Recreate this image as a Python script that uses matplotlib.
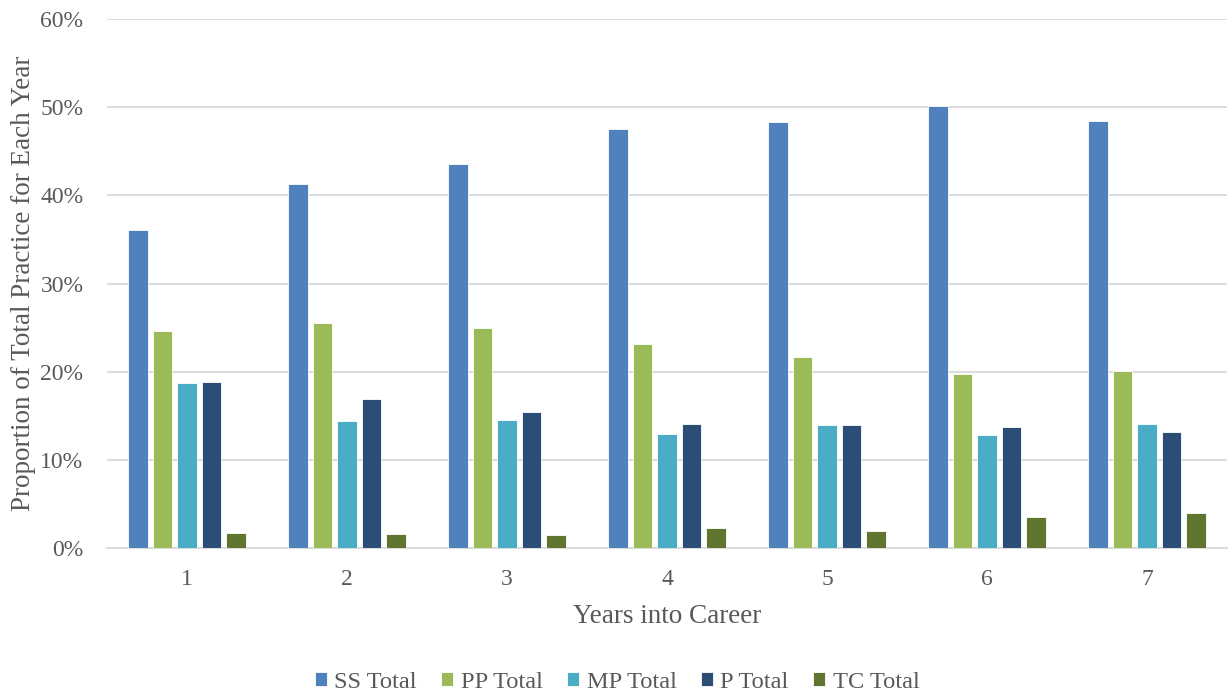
import matplotlib
matplotlib.use("Agg")
import matplotlib.pyplot as plt
import numpy as np
from matplotlib.ticker import PercentFormatter

years = ["1", "2", "3", "4", "5", "6", "7"]
series_names = ["SS Total", "PP Total", "MP Total", "P Total", "TC Total"]
ss_total = [36.1, 41.3, 43.6, 47.5, 48.3, 50.1, 48.4]
pp_total = [24.6, 25.5, 24.9, 23.1, 21.7, 19.7, 20.1]
mp_total = [18.7, 14.4, 14.5, 12.9, 13.9, 12.8, 14.1]
p_total = [18.8, 16.9, 15.4, 14.1, 14.0, 13.7, 13.2]
tc_total = [1.7, 1.6, 1.5, 2.3, 1.9, 3.5, 4.0]
colors = ["#4f81bd", "#9bbb59", "#4bacc6", "#2c4d75", "#5f7530"]

values = [ss_total, pp_total, mp_total, p_total, tc_total]

plt.rcParams["font.family"] = ["Liberation Serif", "DejaVu Serif"]
text_color = "#595959"

fig = plt.figure(figsize=(12.3, 6.94), dpi=100)
ax = fig.add_axes([107 / 1230, 1 - 548 / 694, 1120 / 1230, (548 - 19) / 694])

x = np.arange(len(years))
step = 0.153
width = 0.12
for i, (name, vals, c) in enumerate(zip(series_names, values, colors)):
    ax.bar(x + (i - 2) * step, vals, width=width, color=c, label=name,
           edgecolor="white", linewidth=0.6, zorder=3)

ax.set_xlim(-0.5, len(years) - 0.5)
ax.set_ylim(0, 60)
ax.set_yticks(np.arange(0, 61, 10))
ax.yaxis.set_major_formatter(PercentFormatter(decimals=0))
ax.set_xticks(x)
ax.set_xticklabels(years)
ax.grid(axis="y", color="#d9d9d9", linewidth=1.3, zorder=0)
for s in ["top", "right", "left"]:
    ax.spines[s].set_visible(False)
ax.spines["bottom"].set_color("#d9d9d9")
ax.spines["bottom"].set_linewidth(1.3)
ax.tick_params(axis="both", length=0, labelsize=17, colors=text_color)
ax.tick_params(axis="x", pad=15)
ax.tick_params(axis="y", pad=17)

ax.set_xlabel("Years into Career", fontsize=19.5, color=text_color, labelpad=10)
ax.set_ylabel("Proportion of Total Practice for Each Year", fontsize=19.5,
              color=text_color, labelpad=3)

leg = fig.legend(loc="center", bbox_to_anchor=(617 / 1230, 1 - 682 / 694),
                 ncol=5, frameon=False, fontsize=17.6, handlelength=0.5,
                 handleheight=0.5, handletextpad=0.3, columnspacing=1.0)
for t in leg.get_texts():
    t.set_color(text_color)

fig.savefig("out.png", dpi=100, facecolor="white")
